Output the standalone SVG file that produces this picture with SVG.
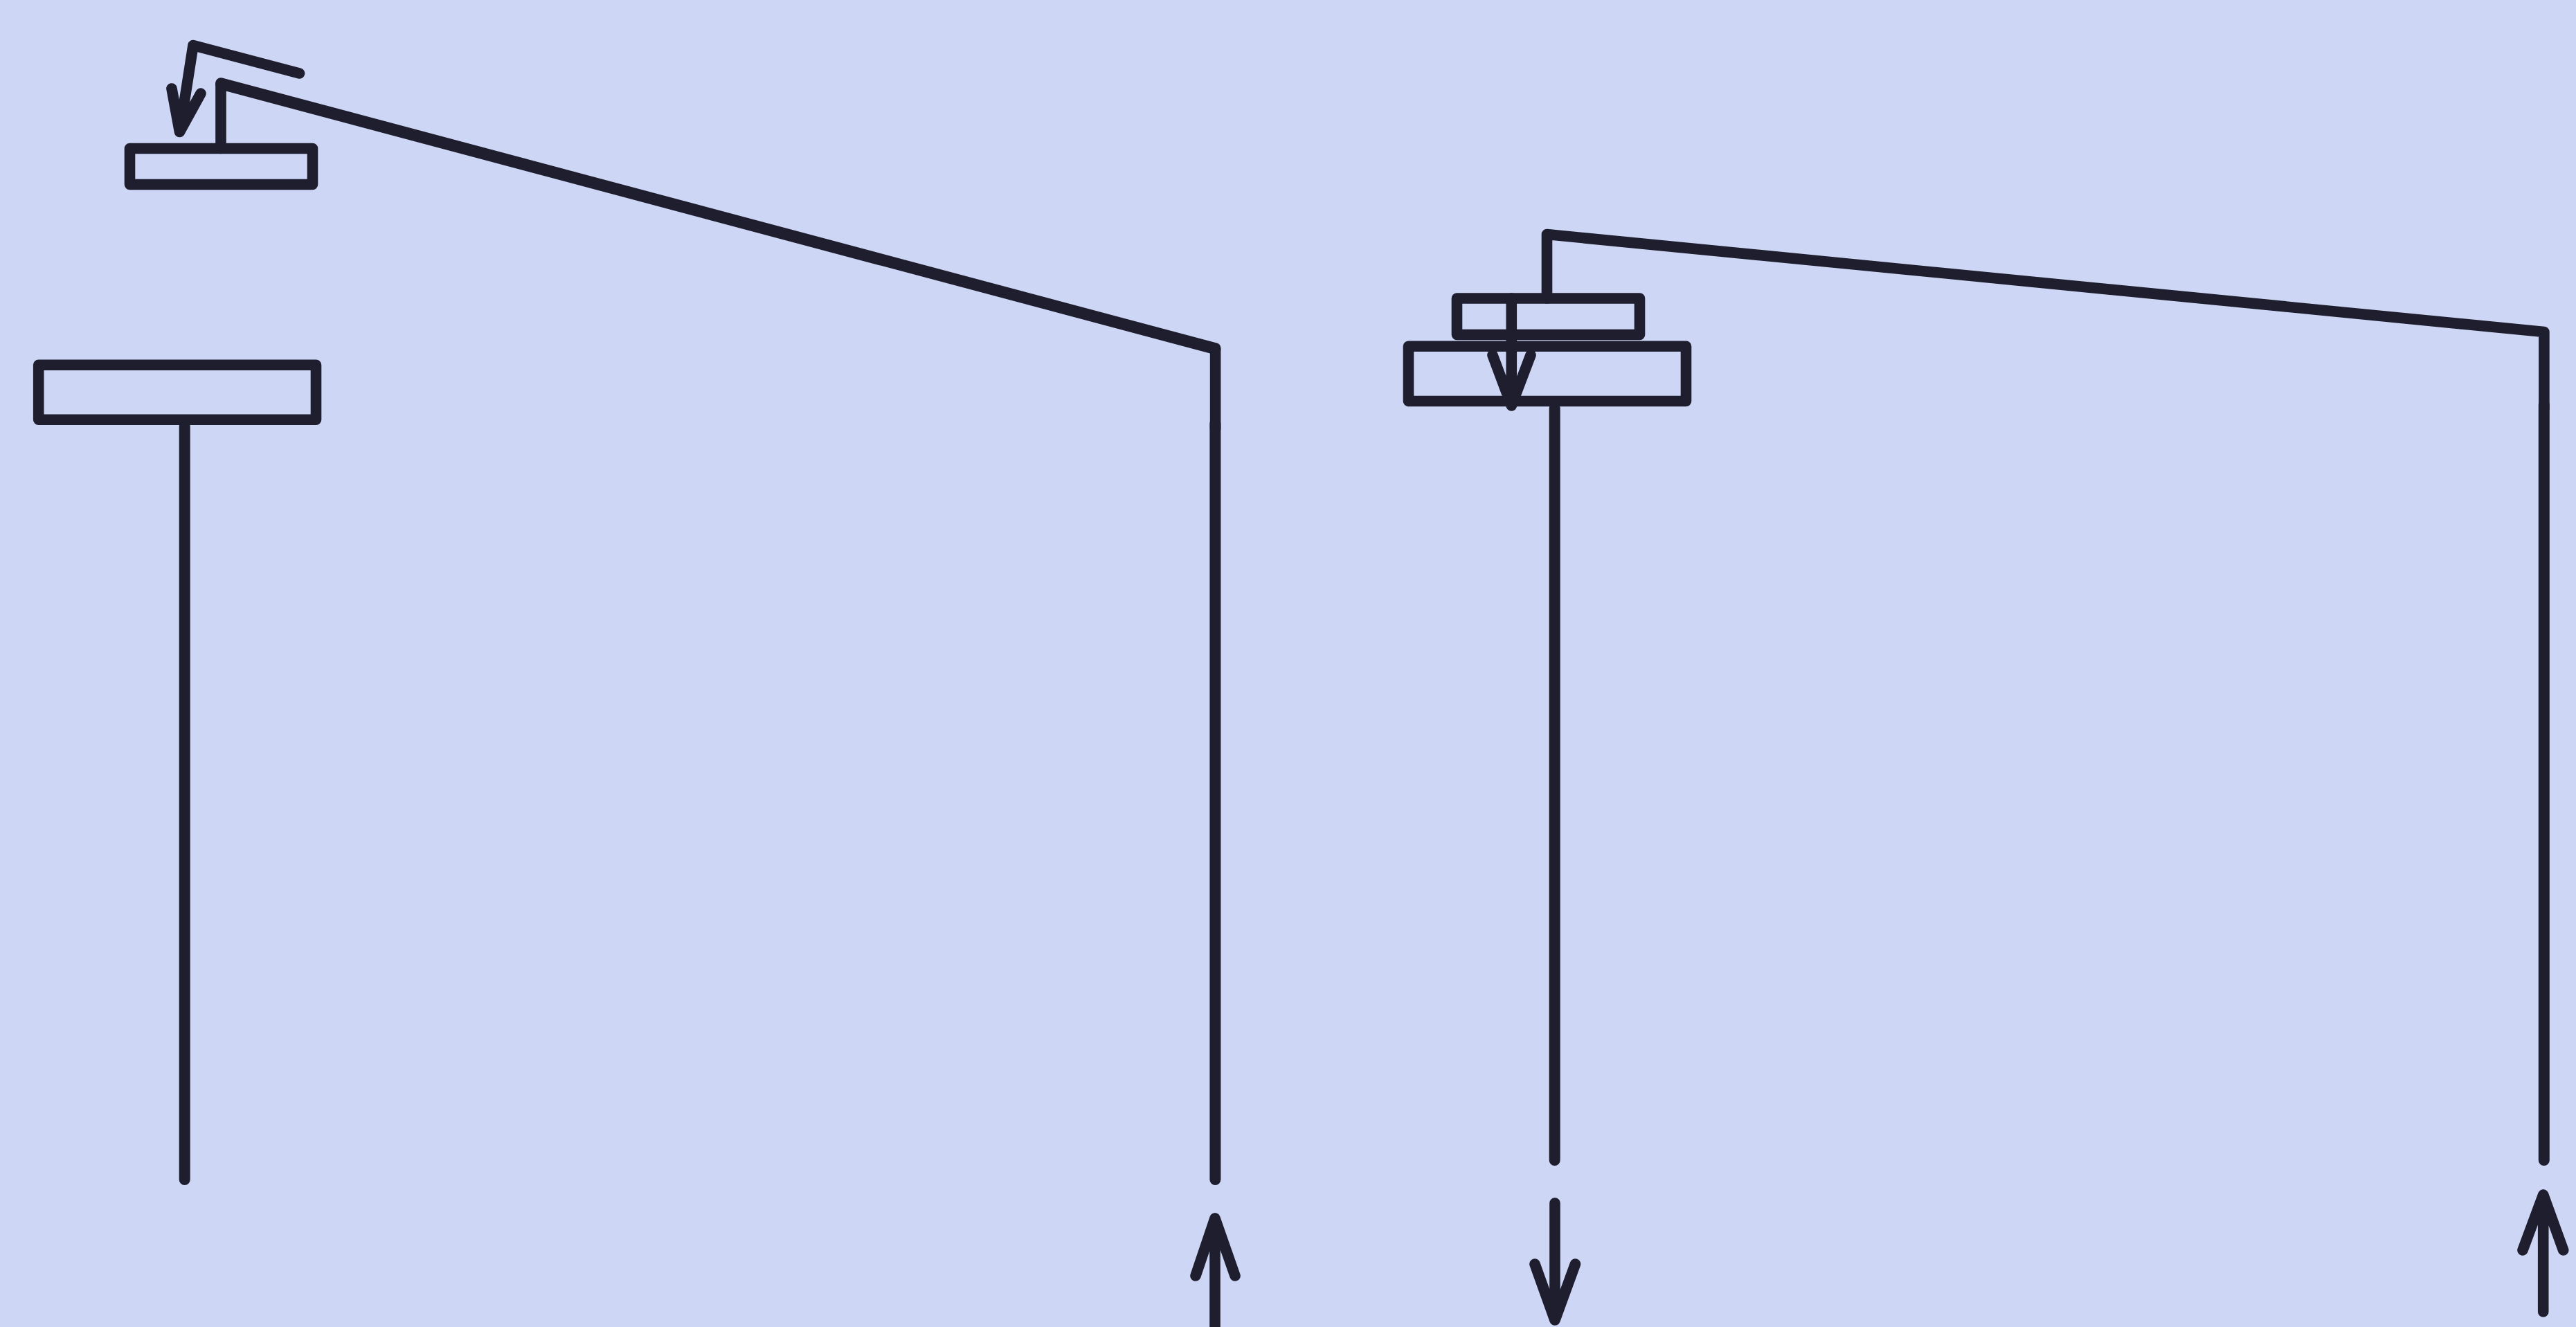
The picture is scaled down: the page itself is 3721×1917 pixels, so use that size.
<svg xmlns="http://www.w3.org/2000/svg" width="3721" height="1917" viewBox="0 0 3721 1917">
<style>
.s{fill:none;stroke:#1e1e2e;stroke-width:15.6;stroke-linecap:round;stroke-linejoin:round}
.l{stroke-width:16}
</style>
<rect width="3721" height="1917" fill="#cdd6f4"/>
<g id="connectors">
<path class="s" d="M319 214.5V120L1755.6 503V620"/>
<path class="s" d="M319 121.5L1755.6 504.5"/>
<path class="s l" d="M1755.4 612V1704"/>
<path class="s" d="M432.5 106L279 65.5L259.5 190.5M248 128L259.5 190.5L290 135"/>
<path class="s l" d="M266.7 616V1704"/>
<path class="s" d="M2234.5 431V338.5L3674.9 479.5V590"/>
<path class="s l" d="M3674.8 585V1676"/>
<path class="s" d="M2183.3 431V586M2156 513L2183.3 586L2211 513"/>
<path class="s l" d="M2245.7 590V1676"/>
<path class="s" d="M1755 1917V1760M1727 1843L1755 1760L1784 1843"/>
<path class="s" d="M2246 1738V1907M2217 1826L2246 1907L2275.5 1826"/>
<path class="s" d="M3673.7 1895V1726M3644 1806L3673.7 1726L3702.7 1806"/>
</g>
<g id="node-a"><rect class="s" x="187.5" y="214.5" width="264" height="52"/></g>
<g id="node-b"><rect class="s" x="55.7" y="527.3" width="400.8" height="79"/></g>
<g id="node-c"><rect class="s" x="2104.5" y="431" width="264" height="52.5"/></g>
<g id="node-d"><rect class="s" x="2034.5" y="500.3" width="401" height="79.2"/></g>
</svg>
